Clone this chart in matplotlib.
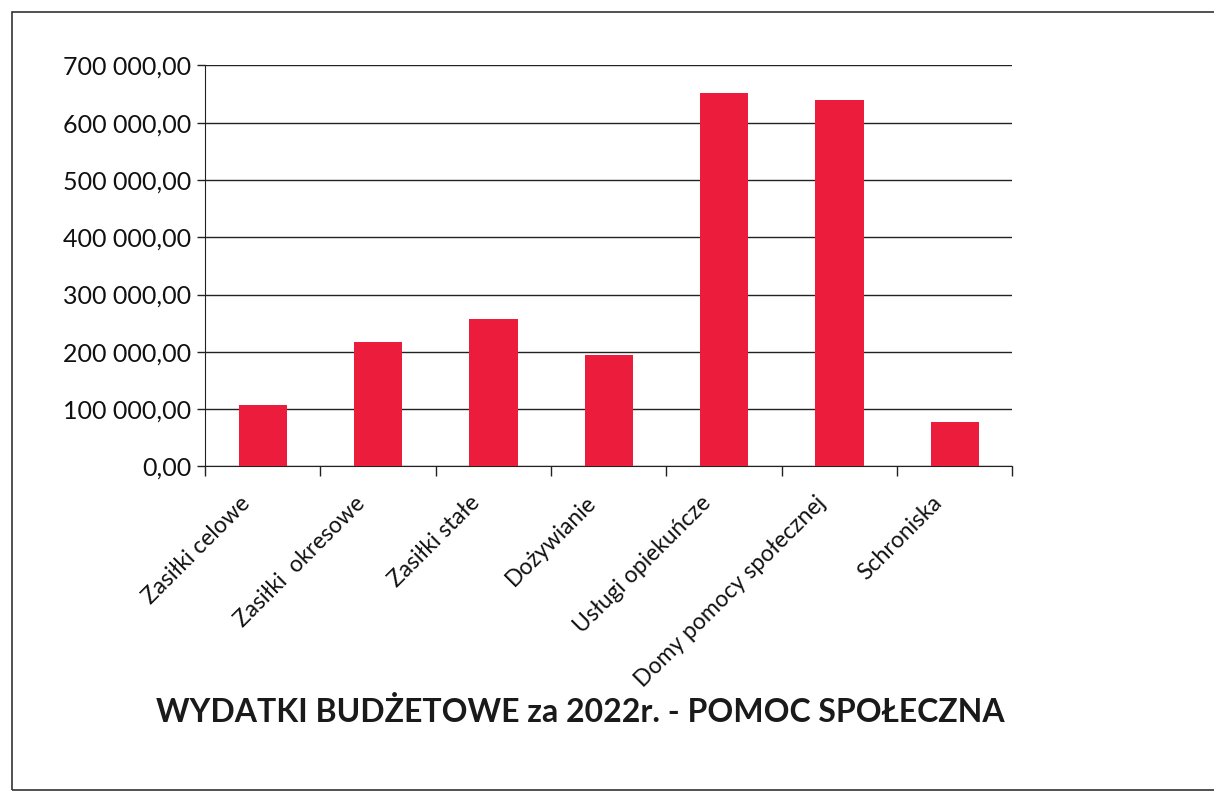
import matplotlib
matplotlib.use('Agg')
import matplotlib.pyplot as plt
from matplotlib.ticker import FuncFormatter, FixedLocator
from matplotlib.patches import Rectangle
from matplotlib.transforms import ScaledTranslation

plt.rcParams['font.family'] = ['Lato', 'DejaVu Sans']

# Data
categories = ['Zasiłki celowe', 'Zasiłki  okresowe', 'Zasiłki stałe', 'Dożywianie',
              'Usługi opiekuńcze', 'Domy pomocy społecznej', 'Schroniska']
values = [108000, 218000, 258000, 195000, 651000, 640000, 78000]
y_ticks = [0, 100000, 200000, 300000, 400000, 500000, 600000, 700000]
title = 'WYDATKI BUDŻETOWE za 2022r. - POMOC SPOŁECZNA'

fig = plt.figure(figsize=(12.14, 7.96), dpi=100)
ax = fig.add_axes([0.169, 0.414, 0.665, 0.504])

x = range(len(categories))
ax.bar(x, values, width=0.42, color='#EC1C3C', zorder=3)

ax.set_xlim(-0.5, len(categories) - 0.5)
ax.set_ylim(0, 700000)

def pl_fmt(v, pos):
    s = f'{v:,.2f}'
    return s.replace(',', ' ').replace('.', ',')

ax.yaxis.set_major_locator(FixedLocator(y_ticks))
ax.yaxis.set_major_formatter(FuncFormatter(pl_fmt))
ax.yaxis.grid(True, color='#222222', linewidth=1.0, zorder=1)

ax.set_xticks(list(x))
ax.set_xticklabels(categories, rotation=45, ha='right', va='top',
                   rotation_mode='anchor', fontsize=16.5, color='#111111')
ax.tick_params(axis='x', length=0, pad=10)
# shift rotated labels slightly left like the original
shift = ScaledTranslation(-24 / 100, -12 / 100, fig.dpi_scale_trans)
for lbl in ax.get_xticklabels():
    lbl.set_transform(lbl.get_transform() + shift)
ax.set_xticks([i - 0.5 for i in range(len(categories) + 1)], minor=True)
ax.tick_params(axis='x', which='minor', length=7, width=1, color='#222222', direction='out')
ax.tick_params(axis='y', length=6, width=1, color='#222222', direction='out',
               labelsize=18, labelcolor='#111111', pad=4)

for side in ['top', 'right']:
    ax.spines[side].set_visible(False)
ax.spines['left'].set_color('#222222')
ax.spines['bottom'].set_color('#222222')

fig.text(0.478, 0.105, title, ha='center', va='center', fontsize=23,
         fontweight='bold', color='#1a1a1a')

# Page frame
fig.add_artist(Rectangle((0.010, 0.007), 0.995, 0.978, transform=fig.transFigure,
                         fill=False, edgecolor='#333333', linewidth=1.2))

fig.savefig('out.png', dpi=100, facecolor='white')
